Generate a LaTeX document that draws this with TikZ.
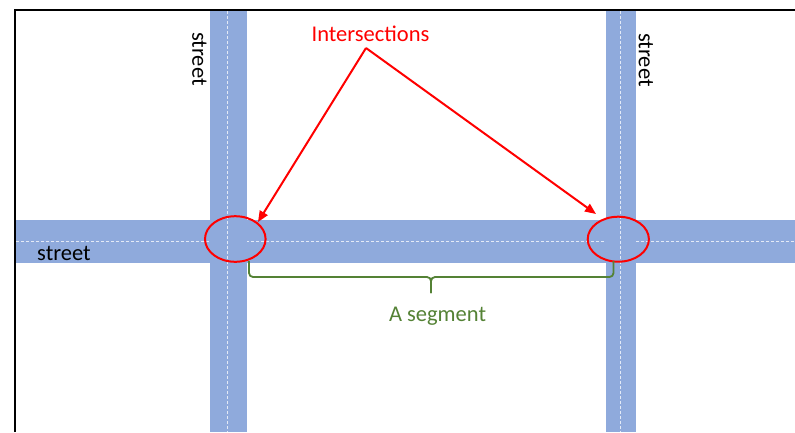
\documentclass[tikz,border=0pt]{standalone}
\usepackage{fontspec}
\setmainfont{Carlito}
\usetikzlibrary{arrows.meta,shapes.geometric}
\definecolor{road}{RGB}{143,170,220}
\definecolor{lane}{RGB}{228,234,246}
\definecolor{segGreen}{RGB}{84,130,53}
\begin{document}
\begin{tikzpicture}[x=1pt,y=-1pt,
  laneline/.style={draw=lane, line width=0.8pt, dash pattern=on 3pt off 2pt},
  txt/.style={font=\fontsize{22.5}{27}\selectfont, inner sep=0pt},
  ring/.style={draw=red, line width=2pt, ellipse, inner sep=0pt},
  pointer/.style={draw=red, line width=2pt, -{Triangle[length=11pt,width=9pt]}},
  bracket/.style={draw=segGreen, line width=1.8pt, rounded corners=4pt}]
\useasboundingbox (0,0) rectangle (795,432);
\fill[white] (0,0) rectangle (795,432);
% horizontal street with its centre line
\fill[road] (16,220) rectangle (795,263);
\draw[laneline] (16,241.7) -- (795,241.7);
% vertical streets with their centre lines
\fill[road] (210,11) rectangle (247,432);
\fill[road] (606,11) rectangle (636,432);
\draw[laneline] (227,11) -- (227,432);
\draw[laneline] (620.5,11) -- (620.5,432);
% frame
\draw[line width=2pt] (15,432) -- (15,10) -- (795,10);
% street names
\node[txt, rotate=-90] (nameL) at (199.5,59) {street};
\node[txt, rotate=-90] (nameR) at (646,60) {street};
\node[txt, anchor=base west] (nameH) at (37,260) {street};
% intersections
\node[ring, minimum width=60.6pt, minimum height=45.6pt] (ringL) at (235.3,239) {};
\node[ring, minimum width=61.2pt, minimum height=45pt] (ringR) at (618.3,239.2) {};
\node[txt, text=red, anchor=base] (hdr) at (370.5,41.7) {Intersections};
\coordinate (apex) at (366,48);
\coordinate (tipL) at (258,222);
\coordinate (tipR) at (596,214);
\draw[pointer] (apex) -- (tipL);
\draw[pointer] (apex) -- (tipR);
% segment brace
\coordinate (braceL) at (249,261);
\coordinate (braceR) at (613.5,261);
\coordinate (braceM) at (431,277);
\coordinate (braceT) at (431,293);
\draw[bracket] (braceL) |- (braceM) -- (braceT);
\draw[bracket] (braceR) |- (braceM) -- (braceT);
\node[txt, text=segGreen, anchor=base] (seg) at (437.5,321) {A segment};
\end{tikzpicture}
\end{document}
